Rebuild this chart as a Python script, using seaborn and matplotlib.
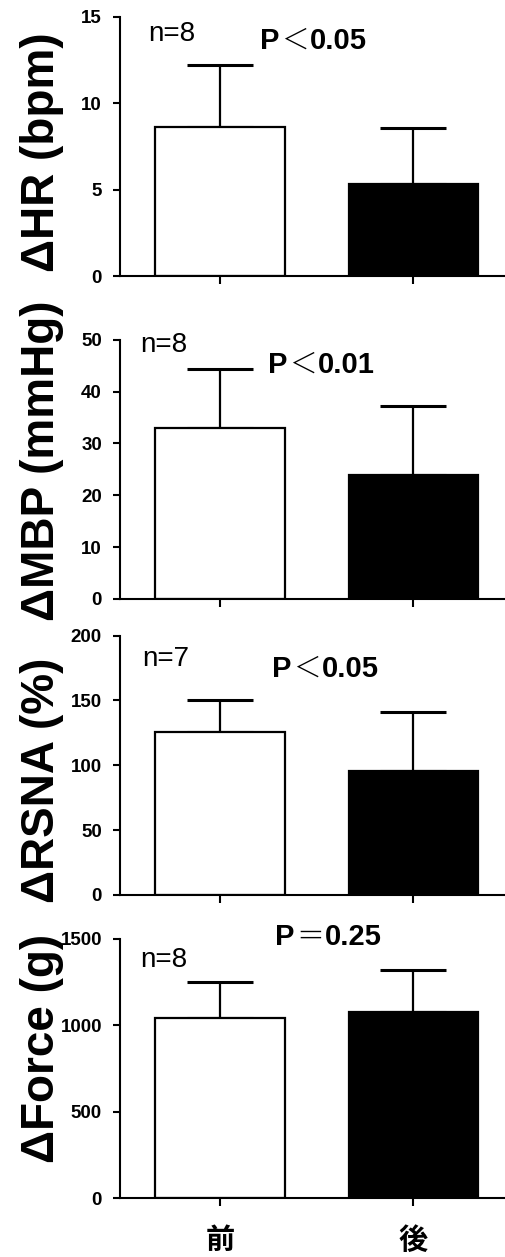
import matplotlib
matplotlib.use("Agg")
import matplotlib.pyplot as plt
import seaborn as sns
import numpy as np

# ---- data ----
groups = ["前", "後"]
hr_mean = [8.6, 5.35]
hr_err = [3.6, 3.2]
mbp_mean = [32.9, 23.9]
mbp_err = [11.4, 13.4]
rsna_mean = [126, 96]
rsna_err = [24, 45]
force_mean = [1042, 1077]
force_err = [212, 241]

ylabels = ["ΔHR (bpm)", "ΔMBP (mmHg)", "ΔRSNA (%)", "ΔForce (g)"]
n_labels = ["n=8", "n=8", "n=7", "n=8"]
p_signs = ["＜", "＜", "＜", "＝"]
p_values = ["0.05", "0.01", "0.05", "0.25"]
yticks = [[0, 5, 10, 15], [0, 10, 20, 30, 40, 50], [0, 50, 100, 150, 200], [0, 500, 1000, 1500]]

sns.set_style("ticks")
plt.rcParams["font.family"] = ["Liberation Sans", "Noto Sans CJK JP", "DejaVu Sans"]
plt.rcParams["text.color"] = "black"
plt.rcParams["axes.labelcolor"] = "black"
plt.rcParams["xtick.color"] = "black"
plt.rcParams["ytick.color"] = "black"

fig = plt.figure(figsize=(5.05, 12.57), dpi=100)

# layout (figure fractions)
left, width = 0.2376, 0.7624
bottoms = [0.7804, 0.5235, 0.2880, 0.0467]
height = 0.2063
label_y = [0.477, 0.533, 0.444, 0.576]
n_pos = [(0.073, 0.935), (0.052, 0.981), (0.057, 0.91), (0.052, 0.92)]
p_pos = [(0.364, 0.906), (0.385, 0.903), (0.395, 0.872), (0.403, 1.009)]

means_all = [hr_mean, mbp_mean, rsna_mean, force_mean]
errs_all = [hr_err, mbp_err, rsna_err, force_err]

for i in range(4):
    ax = fig.add_axes([left, bottoms[i], width, height])
    means = means_all[i]
    errs = errs_all[i]
    sns.barplot(x=groups, y=means, hue=groups, order=groups, hue_order=groups,
                palette=["white", "black"], edgecolor="black", linewidth=1.6,
                width=0.67, legend=False, ax=ax, errorbar=None, zorder=2)
    ax.errorbar(x=[0, 1], y=means, yerr=[[0, 0], errs], fmt="none",
                ecolor="black", elinewidth=1.6, capsize=23.5, capthick=2.2, zorder=1)
    ax.set_xlim(-0.517, 1.473)
    ax.set_ylim(0, yticks[i][-1])
    ax.set_yticks(yticks[i])
    for side in ["top", "right"]:
        ax.spines[side].set_visible(False)
    for side in ["left", "bottom"]:
        ax.spines[side].set_linewidth(1.5)
        ax.spines[side].set_color("black")
    ax.tick_params(axis="y", length=5, width=1.5, pad=8, labelsize=13.5, colors="black")
    ax.tick_params(axis="x", length=6, width=1.5, pad=13, labelsize=21, colors="black")
    for lab in ax.get_yticklabels():
        lab.set_fontweight("bold")
        lab.set_family("Liberation Sans")
    if i < 3:
        ax.set_xticklabels([])
    else:
        for lab in ax.get_xticklabels():
            lab.set_fontweight("bold")
            lab.set_family(["Noto Sans CJK JP"])
    ax.set_xlabel("")
    ax.set_ylabel(ylabels[i], fontsize=33, fontweight="bold", family="Liberation Sans",
                  color="black")
    ax.yaxis.set_label_coords(-0.145, label_y[i])
    ax.text(n_pos[i][0], n_pos[i][1], n_labels[i], transform=ax.transAxes,
            ha="left", va="center", fontsize=20, family="Liberation Sans", color="black")
    t1 = ax.text(p_pos[i][0], p_pos[i][1], "P", transform=ax.transAxes,
                 ha="left", va="center", fontsize=21, fontweight="bold", color="black",
                 family="Liberation Sans", clip_on=False)
    t2 = ax.annotate(p_signs[i], xy=(1.0, 0.5), xycoords=t1, xytext=(1, 0),
                     textcoords="offset points", ha="left", va="center",
                     fontsize=20, fontweight="light", color="black",
                     family="Noto Sans CJK JP", annotation_clip=False)
    ax.annotate(p_values[i], xy=(1.0, 0.5), xycoords=t2, xytext=(1, 0),
                textcoords="offset points", ha="left", va="center",
                fontsize=21, fontweight="bold", color="black",
                family="Liberation Sans", annotation_clip=False)

fig.savefig("out.png", dpi=100)
